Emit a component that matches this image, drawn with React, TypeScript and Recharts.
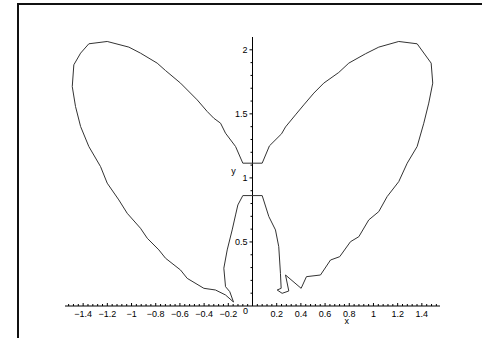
import { ScatterChart, Scatter, XAxis, YAxis, ReferenceLine, ReferenceDot } from 'recharts';

// Butterfly outline, traced as one closed path in drawing order.
const upperRightWing: [number, number][] = [
  [-0.08, 1.115], [0.08, 1.115], [0.14, 1.25], [0.24, 1.344], [0.273, 1.398],
  [0.355, 1.492], [0.424, 1.57], [0.507, 1.662], [0.589, 1.74], [0.713, 1.823],
  [0.796, 1.896], [0.934, 1.969], [1.044, 2.021], [1.209, 2.065], [1.361, 2.047],
  [1.477, 1.896], [1.49, 1.74], [1.457, 1.584], [1.416, 1.427], [1.361, 1.245],
];

const lowerRightWing: [number, number][] = [
  [1.279, 1.115], [1.209, 0.971], [1.113, 0.854], [1.044, 0.737], [0.961, 0.672],
  [0.879, 0.541], [0.81, 0.502], [0.721, 0.385], [0.645, 0.359], [0.562, 0.242],
  [0.446, 0.229], [0.402, 0.138], [0.273, 0.242], [0.3, 0.117], [0.245, 0.099],
  [0.204, 0.125], [0.237, 0.138], [0.231, 0.255], [0.217, 0.463], [0.19, 0.594],
  [0.135, 0.698], [0.08, 0.862],
];

const lowerLeftWing: [number, number][] = [
  [-0.08, 0.862], [-0.121, 0.789], [-0.14, 0.711], [-0.168, 0.594], [-0.209, 0.438],
  [-0.237, 0.295], [-0.223, 0.151], [-0.188, 0.112], [-0.157, 0.031], [-0.223, 0.086],
  [-0.306, 0.125], [-0.402, 0.138], [-0.54, 0.216], [-0.595, 0.281], [-0.719, 0.373],
  [-0.774, 0.438], [-0.87, 0.529], [-0.926, 0.607], [-1.036, 0.724], [-1.105, 0.828],
  [-1.201, 0.959], [-1.256, 1.088],
];

const upperLeftWing: [number, number][] = [
  [-1.353, 1.245], [-1.421, 1.401], [-1.463, 1.557], [-1.49, 1.713], [-1.477, 1.883],
  [-1.421, 1.974], [-1.353, 2.047], [-1.201, 2.065], [-1.022, 2.021], [-0.926, 1.974],
  [-0.788, 1.896], [-0.719, 1.838], [-0.595, 1.74], [-0.457, 1.609], [-0.374, 1.518],
  [-0.32, 1.466], [-0.264, 1.427], [-0.223, 1.349], [-0.14, 1.245], [-0.08, 1.115],
];

const xLabels = [-1.4, -1.2, -1, -0.8, -0.6, -0.4, -0.2, 0, 0.2, 0.4, 0.6, 0.8, 1, 1.2, 1.4];
const yLabels = [0.5, 1, 1.5, 2];

const curve = [...upperRightWing, ...lowerRightWing, ...lowerLeftWing, ...upperLeftWing].map(
  ([x, y]) => ({ x, y })
);

// minor ticks: every 0.04 along x, every 0.1 along y
const xTicks: number[] = [];
for (let i = -38; i <= 38; i++) xTicks.push(Math.round(i * 4) / 100);
const yMinor: number[] = [];
for (let i = 1; i <= 20; i++) if (i % 5 !== 0) yMinor.push(i / 10);

const FONT = '"Liberation Sans", Arial, sans-serif';
const INK = '#000';

const fmt = (v: number) => (v < 0 ? '\u2212' + String(-v) : String(v));

const XTick = (props: any) => {
  const { x, y, payload } = props;
  const v: number = payload.value;
  const isLabel = xLabels.some(l => Math.abs(l - v) < 1e-6);
  return (
    <g>
      <line x1={x} x2={x} y1={y} y2={y - (isLabel ? 3 : 2)} stroke={INK} strokeWidth={1} />
      {isLabel && (
        <text
          x={v === 0 ? x - 7 : x}
          y={v === 0 ? y + 8 : y + 11}
          textAnchor="middle"
          fontFamily={FONT}
          fontSize={9}
          fill={INK}
        >
          {fmt(v)}
        </text>
      )}
    </g>
  );
};

const yMajorTick = (label: string) => (p: any) => (
  <g>
    <line x1={p.cx - 3} x2={p.cx} y1={p.cy} y2={p.cy} stroke={INK} strokeWidth={1} />
    <text x={p.cx - 5} y={p.cy + 3} textAnchor="end" fontFamily={FONT} fontSize={9} fill={INK}>
      {label}
    </text>
  </g>
);

const yMinorTick = (p: any) => (
  <line x1={p.cx - 2} x2={p.cx} y1={p.cy} y2={p.cy} stroke={INK} strokeWidth={1} />
);

const axisName = (label: string, dx: number, dy: number) => (p: any) => (
  <text x={p.cx + dx} y={p.cy + dy} textAnchor="middle" fontFamily={FONT} fontSize={9} fill={INK}>
    {label}
  </text>
);

export default function App() {
  return (
    <div style={{ position: 'absolute', left: 0, top: 0, width: 482, height: 338, background: '#fff', overflow: 'hidden' }}>
      <div
        style={{
          position: 'absolute',
          left: 17,
          top: 3,
          width: 480,
          height: 360,
          borderLeft: '2px solid #111',
          borderTop: '2px solid #111',
        }}
      />
      <div style={{ position: 'absolute', left: 0, top: 0 }}>
        <ScatterChart width={482} height={338} margin={{ top: 37, right: 42, bottom: 12, left: 65 }}>
          <XAxis
            type="number"
            dataKey="x"
            domain={[-1.55, 1.55]}
            ticks={xTicks}
            interval={0}
            tick={<XTick />}
            tickLine={false}
            tickSize={0}
            tickMargin={0}
            axisLine={{ stroke: INK }}
            height={20}
            allowDataOverflow
          />
          <YAxis type="number" dataKey="y" domain={[0, 2.1]} hide allowDataOverflow />
          <ReferenceLine x={0} stroke={INK} strokeWidth={1} />
          {yMinor.map(v => (
            <ReferenceDot key={'m' + v} x={0} y={v} r={0} shape={yMinorTick} />
          ))}
          {yLabels.map(v => (
            <ReferenceDot key={'M' + v} x={0} y={v} r={0} shape={yMajorTick(String(v))} />
          ))}
          <ReferenceDot x={0} y={1.05} r={0} shape={axisName('y', -19, 2)} />
          <ReferenceDot x={0.78} y={0} r={0} shape={axisName('x', 0, 18)} />
          <Scatter
            data={curve}
            line={{ stroke: '#333', strokeWidth: 1 }}
            lineType="joint"
            shape={() => <g />}
            isAnimationActive={false}
          />
        </ScatterChart>
      </div>
    </div>
  );
}
